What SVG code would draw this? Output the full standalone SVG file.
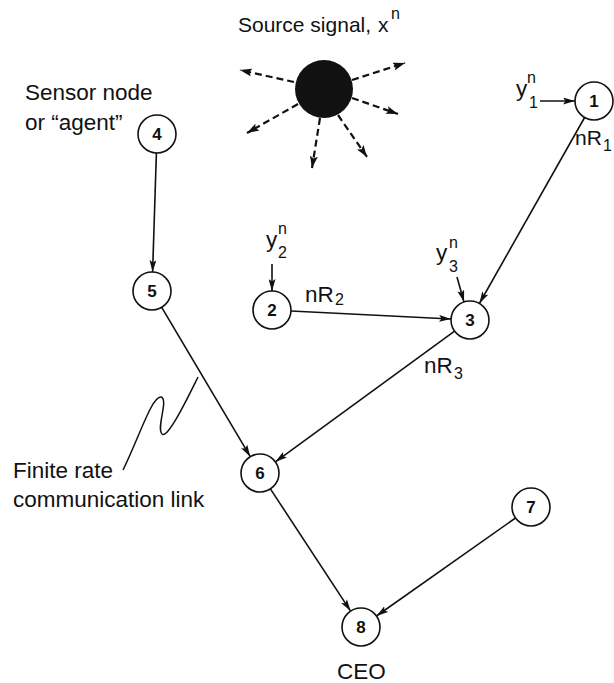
<svg xmlns="http://www.w3.org/2000/svg" width="614" height="683" viewBox="0 0 614 683">
<style>
text{font-family:"Liberation Sans",Arial,Helvetica,sans-serif;fill:#111}
.lbl{font-size:22.5px}
.src{font-size:21px}
.sub{font-size:16px}
.num{font-size:17px;font-weight:bold;text-anchor:middle}
.node circle{fill:#fff;stroke:#111;stroke-width:1.6}
.edge{stroke:#111;stroke-width:1.6;fill:none;marker-end:url(#ah)}
.ray{stroke:#111;stroke-width:2.2;fill:none;stroke-dasharray:7 4;marker-end:url(#ahd)}
</style>
<defs>
<marker id="ah" viewBox="0 0 12 7" refX="12" refY="3.5" markerWidth="12" markerHeight="7" markerUnits="userSpaceOnUse" orient="auto">
<path d="M0,0 L12,3.5 L0,7 L2.5,3.5 z" fill="#111"/>
</marker>
<marker id="ahd" viewBox="0 0 12 8" refX="12" refY="4" markerWidth="12" markerHeight="8" markerUnits="userSpaceOnUse" orient="auto">
<path d="M0,0 L12,4 L0,8 L2.5,4 z" fill="#111"/>
</marker>
</defs>

<g id="source">
<text class="src" x="238" y="32">Source signal,</text>
<text class="src" x="378" y="32">x</text>
<text class="sub" x="391" y="19">n</text>
<circle cx="324" cy="89" r="29" fill="#111"/>
<path class="ray" d="M294,82 L240,70"/>
<path class="ray" d="M352,80 L405,63"/>
<path class="ray" d="M352,98 L398,114"/>
<path class="ray" d="M298,104 L247,133"/>
<path class="ray" d="M320,118 L312,168"/>
<path class="ray" d="M338,115 L367,157"/>
</g>

<g id="connectors">
<path class="edge" d="M156.4,153 L152.6,272"/>
<path class="edge" d="M161.7,307.3 L250.3,456.7"/>
<path class="edge" d="M454.6,331.2 L275.4,461.8"/>
<path class="edge" d="M584.6,117.5 L479.4,303.5"/>
<path class="edge" d="M291,311 L451,319"/>
<path class="edge" d="M270.4,488.9 L350.6,611.1"/>
<path class="edge" d="M515.5,518 L376.5,616"/>
<path class="edge" d="M540,101 L575,101"/>
<path class="edge" d="M272,264 L272,291"/>
<path class="edge" d="M457,277 L464,302"/>
</g>

<g id="labels">
<text class="lbl" x="25" y="100">Sensor node</text>
<text class="lbl" x="25" y="130">or “agent”</text>
<text class="lbl" x="516" y="96">y</text>
<text class="sub" x="527" y="83">n</text>
<text class="sub" x="529" y="108">1</text>
<text class="src" x="575" y="145">nR</text>
<text class="sub" x="603" y="151">1</text>
<text class="lbl" x="266" y="247">y</text>
<text class="sub" x="278" y="234">n</text>
<text class="sub" x="278" y="258">2</text>
<text class="lbl" x="305" y="302">nR</text>
<text class="sub" x="335" y="305">2</text>
<text class="lbl" x="436" y="260">y</text>
<text class="sub" x="449" y="248">n</text>
<text class="sub" x="449" y="272">3</text>
<text class="lbl" x="424" y="373">nR</text>
<text class="sub" x="454" y="379">3</text>
<path d="M123,470 C140,435 152,396 161,397 C169,399 156,428 162,434 C168,439 188,397 198,377" fill="none" stroke="#111" stroke-width="1.5"/>
<text class="lbl" x="13" y="478">Finite rate</text>
<text class="lbl" x="13" y="507">communication link</text>
<text class="lbl" x="337" y="679">CEO</text>
</g>

<g id="node1" class="node"><circle cx="594" cy="101" r="19"/><text class="num" x="594" y="107">1</text></g>
<g id="node2" class="node"><circle cx="272" cy="310" r="19"/><text class="num" x="272" y="316">2</text></g>
<g id="node3" class="node"><circle cx="470" cy="320" r="19"/><text class="num" x="470" y="326">3</text></g>
<g id="node4" class="node"><circle cx="157" cy="134" r="19"/><text class="num" x="157" y="140">4</text></g>
<g id="node5" class="node"><circle cx="152" cy="291" r="19"/><text class="num" x="152" y="297">5</text></g>
<g id="node6" class="node"><circle cx="260" cy="473" r="19"/><text class="num" x="260" y="479">6</text></g>
<g id="node7" class="node"><circle cx="531" cy="507" r="19"/><text class="num" x="531" y="513">7</text></g>
<g id="node8" class="node"><circle cx="361" cy="627" r="19"/><text class="num" x="361" y="633">8</text></g>
</svg>
